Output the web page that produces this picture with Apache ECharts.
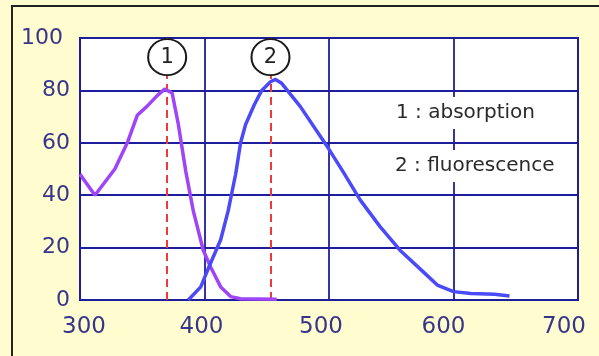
<!DOCTYPE html>
<html><head><meta charset="utf-8">
<script src="https://cdn.jsdelivr.net/npm/echarts@6/dist/echarts.min.js"></script>
<style>html,body{margin:0;padding:0;background:#FFFDCF;}#c{width:599px;height:356px;}</style>
</head><body><div id="c"></div>
<script>
// Data
const absWl  = [300, 312, 328, 338, 346, 354, 362, 368, 374, 379, 385, 391, 399, 405, 413, 421, 429, 458];
const absVal = [48, 40, 50, 60, 70.5, 74, 78, 80.5, 79, 67, 49, 34, 19, 12.5, 5, 1.3, 0.5, 0.3];
const fluWl  = [387, 397, 403, 413, 419, 425, 429, 433, 440, 446, 453, 457, 462, 477, 498, 512, 525, 541, 557, 574, 587, 600, 614, 633, 645];
const fluVal = [0, 5, 12, 23, 34, 48, 60, 67, 74.5, 80, 83.3, 84.2, 82.7, 73.8, 59, 48.4, 38.2, 28, 19, 11.5, 5.7, 3.2, 2.5, 2.2, 1.5];
const peakWl = [370, 453];
const peakLabels = ['1', '2'];
const markerY = 92.7;
const xTicks = [300, 400, 500, 600, 700];
const yTicks = [0, 20, 40, 60, 80, 100];
const notes = ['1 : absorption', '2 : fluorescence'];

const navy = '#1e1e9c';
const labelColor = '#36368c';
const chart = echarts.init(document.getElementById('c'));

const xPad = {300: [0,0,0,8], 400: [0,6,0,0], 500: [0,16,0,0], 600: [0,20,0,0], 700: [0,28,0,0]};
const xRich = {};
xTicks.forEach(v => { xRich['x' + v] = {padding: xPad[v], fontSize: 23, fontFamily: 'DejaVu Sans', color: labelColor}; });
const yRich = {};
yTicks.forEach(v => { yRich['y' + v] = {padding: v === 100 ? [0,7,0,0] : [0,0,0,0], fontSize: 22, fontFamily: 'DejaVu Sans', color: labelColor}; });

chart.setOption({
  backgroundColor: '#FFFDCF',
  animation: false,
  grid: {left: 80, top: 38, right: 21, bottom: 56, show: true, backgroundColor: '#ffffff', borderColor: navy, borderWidth: 2},
  xAxis: {
    type: 'value', min: 300, max: 700, interval: 100,
    axisLine: {show: false}, axisTick: {show: false},
    splitLine: {show: true, lineStyle: {color: navy, width: 1.8}},
    axisLabel: {margin: 16, formatter: v => '{x' + v + '|' + v + '}', rich: xRich}
  },
  yAxis: {
    type: 'value', min: 0, max: 100, interval: 20,
    axisLine: {show: false}, axisTick: {show: false},
    splitLine: {show: true, lineStyle: {color: navy, width: 1.8}},
    axisLabel: {margin: 10, formatter: v => '{y' + v + '|' + v + '}', rich: yRich}
  },
  series: [
    {
      type: 'line', data: absWl.map((w, i) => [w, absVal[i]]), showSymbol: false, z: 3,
      lineStyle: {color: '#A044F8', width: 3.5}, itemStyle: {color: '#A044F8'},
      markLine: {
        silent: true, symbol: 'none', label: {show: false}, z: 2,
        lineStyle: {color: '#F03A3A', width: 2, type: [8, 5]},
        data: peakWl.map(w => [{coord: [w, 0]}, {coord: [w, 100]}])
      }
    },
    {
      type: 'line', data: fluWl.map((w, i) => [w, fluVal[i]]), showSymbol: false, z: 3,
      lineStyle: {color: '#4A4AF8', width: 3.5}, itemStyle: {color: '#4A4AF8'}
    },
    {
      type: 'scatter', z: 5, symbol: 'circle', symbolSize: [38, 36],
      data: peakWl.map((w, i) => ({value: [w, markerY], name: peakLabels[i]})),
      itemStyle: {color: '#ffffff', borderColor: '#1a1a1a', borderWidth: 2, opacity: 1},
      label: {show: true, position: 'inside', formatter: p => p.name, fontSize: 21, fontFamily: 'DejaVu Sans', color: '#222'}
    }
  ],
  graphic: [
    {type: 'rect', shape: {x: 12, y: 6, width: 700, height: 500}, style: {fill: 'none', stroke: '#222', lineWidth: 2}, z: 100, silent: true},
    {type: 'text', x: 392, y: 97, z: 100, style: {text: notes[0], font: '20px "DejaVu Sans"', fill: '#2a2a2a', backgroundColor: '#ffffff', padding: [6, 4, 6, 4]}},
    {type: 'text', x: 391, y: 150, z: 100, style: {text: notes[1], font: '20px "DejaVu Sans"', fill: '#2a2a2a', backgroundColor: '#ffffff', padding: [6, 4, 6, 4]}}
  ]
});
</script></body></html>
